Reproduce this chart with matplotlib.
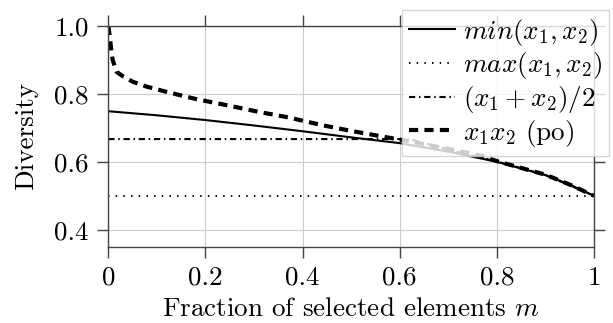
import matplotlib
matplotlib.use("Agg")
from matplotlib import pyplot as plt

plt.rcParams["font.family"] = "serif"
plt.rcParams["font.serif"] = ["cmr10"]
plt.rcParams["mathtext.fontset"] = "cm"
plt.rcParams["axes.unicode_minus"] = False
plt.rcParams["axes.formatter.use_mathtext"] = True

# Values
mMin = [0, 0.1, 0.2, 0.3, 0.4, 0.5, 0.6, 0.7, 0.8, 0.9, 0.95, 1.0]
divMin = [0.749, 0.737, 0.723, 0.707, 0.690, 0.672, 0.655, 0.630, 0.600, 0.561, 0.533, 0.5]

mMax = [0, 1.0]
divMax = [0.5, 0.5]

mAvg = [0, 0.62, 0.7, 0.8, 0.9, 1.0]
divAvg = [0.667, 0.667, 0.636, 0.601, 0.561, 0.5]

mProd = [0, 0.003, 0.006, 0.009, 0.017, 0.03, 0.05, 0.08, 0.12, 0.18, 0.25,
         0.31, 0.37, 0.44, 0.5, 0.57, 0.63, 0.7, 0.77, 0.8, 0.9, 0.95, 1.0]
divProd = [1.0, 0.97, 0.93, 0.9, 0.865, 0.852, 0.836, 0.821, 0.806, 0.785, 0.765,
           0.747, 0.731, 0.708, 0.691, 0.673, 0.658, 0.638, 0.617, 0.602, 0.562, 0.533, 0.5]

xTicks = [0, 0.2, 0.4, 0.6, 0.8, 1.0]
xTickLabels = ["0", "0.2", "0.4", "0.6", "0.8", "1"]
yTicks = [0.4, 0.6, 0.8, 1.0]
yTickLabels = ["0.4", "0.6", "0.8", "1.0"]

labels = [r"$min(x_1, x_2)$", r"$max(x_1, x_2)$", r"$(x_1 + x_2)/2$", r"$x_1x_2$ (po)"]

fs = 19.5
W, H = 613, 323
fig = plt.figure(figsize=(W / 100, H / 100), dpi=100)
ax = fig.add_axes([108.3 / W, 1 - 246.7 / H, (594 - 108.3) / W, (246.7 - 26) / H])

ax.plot(mMin, divMin, color="black", lw=1.5, label=labels[0])
ax.plot(mMax, divMax, color="black", lw=1.4, linestyle=(0, (0.75, 3.2)), label=labels[1])
ax.plot(mAvg, divAvg, color="black", lw=1.5, linestyle=(0, (3.0, 1.8, 0.7, 1.8)), label=labels[2])
ax.plot(mProd, divProd, color="black", lw=3.0, linestyle=(0, (2.2, 1.5)), label=labels[3])

ax.set_xlim(0, 1)
ax.set_ylim(0.35, 1.0)
ax.set_xticks(xTicks)
ax.set_xticklabels(xTickLabels)
ax.set_yticks(yTicks)
ax.set_yticklabels(yTickLabels)
ax.grid(color="#cccccc", lw=0.8)
ax.set_axisbelow(True)
ax.tick_params(direction="out", length=8, width=1, color="#444444",
               top=True, right=True, labelsize=fs, pad=6)
for s in ax.spines.values():
    s.set_color("#444444")
    s.set_linewidth(1.0)

ax.set_xlabel(r"Fraction of selected elements $m$", fontsize=fs, labelpad=5)
ax.set_ylabel("Diversity", fontsize=fs, labelpad=12)

leg = ax.legend(loc="upper left", bbox_to_anchor=(402 / W, 1 - 10 / H),
                bbox_transform=fig.transFigure, borderaxespad=0, fontsize=fs,
                handlelength=1.7, handletextpad=0.3, labelspacing=0.1,
                borderpad=0.25, fancybox=False, framealpha=0.8,
                edgecolor="#cccccc")
leg.get_frame().set_linewidth(1.0)

fig.savefig("out.png", dpi=100)
